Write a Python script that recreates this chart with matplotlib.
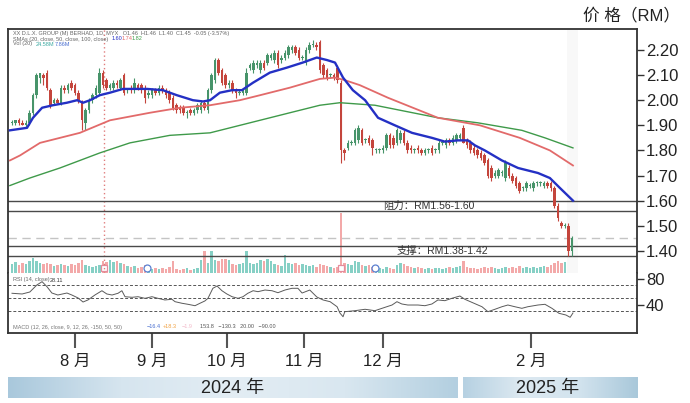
import numpy as np
import matplotlib.pyplot as plt
from matplotlib.colors import LinearSegmentedColormap

plt.rcParams['font.family'] = ['Liberation Sans', 'Noto Sans CJK SC', 'DejaVu Sans']

# ---- daily candles (trading-day index 0..160, Jul 2024 - Feb 2025) ----
opens = [
    1.91, 1.91, 1.92, 1.91, 1.90, 1.91, 1.95, 2.02, 2.09, 2.10,
    2.11, 2.04, 1.99, 2.00, 1.99, 2.05, 2.04, 2.07, 2.06, 2.03,
    1.99, 1.91, 1.96, 2.00, 2.02, 2.03, 2.11, 2.08, 2.05, 2.05,
    2.07, 2.05, 2.10, 2.04, 2.05, 2.04, 2.06, 2.06, 2.05, 2.02,
    2.02, 2.04, 2.03, 2.05, 2.04, 2.03, 2.01, 1.98, 1.97, 1.97,
    1.95, 1.96, 1.95, 1.96, 1.96, 1.99, 1.96, 2.04, 2.08, 2.16,
    2.12, 2.10, 2.06, 2.07, 2.04, 2.03, 2.03, 2.03, 2.13, 2.12,
    2.14, 2.12, 2.15, 2.15, 2.17, 2.16, 2.19, 2.16, 2.17, 2.18,
    2.20, 2.21, 2.20, 2.17, 2.15, 2.20, 2.22, 2.22, 2.23, 2.14,
    2.12, 2.10, 2.10, 2.13, 2.07, 1.80, 1.81, 1.83, 1.83, 1.84,
    1.88, 1.84, 1.85, 1.84, 1.80, 1.80, 1.80, 1.81, 1.86, 1.85,
    1.83, 1.84, 1.87, 1.83, 1.81, 1.80, 1.81, 1.80, 1.79, 1.80,
    1.81, 1.80, 1.80, 1.83, 1.82, 1.84, 1.83, 1.84, 1.85, 1.89,
    1.84, 1.83, 1.81, 1.80, 1.79, 1.78, 1.76, 1.73, 1.70, 1.70,
    1.71, 1.69, 1.73, 1.70, 1.69, 1.67, 1.65, 1.65, 1.66, 1.65,
    1.67, 1.67, 1.66, 1.67, 1.67, 1.65, 1.58, 1.51, 1.50, 1.50,
    1.40]
highs = [
    1.92, 1.92, 1.93, 1.92, 1.92, 1.96, 2.03, 2.11, 2.11, 2.11,
    2.12, 2.05, 2.01, 2.01, 2.06, 2.06, 2.07, 2.08, 2.07, 2.04,
    2.00, 1.97, 2.01, 2.03, 2.06, 2.13, 2.12, 2.09, 2.07, 2.08,
    2.08, 2.09, 2.11, 2.05, 2.06, 2.09, 2.07, 2.07, 2.06, 2.04,
    2.05, 2.05, 2.06, 2.06, 2.05, 2.04, 2.02, 1.99, 1.98, 1.98,
    1.96, 1.97, 1.97, 1.99, 2.00, 2.00, 2.05, 2.11, 2.17, 2.17,
    2.13, 2.11, 2.08, 2.08, 2.05, 2.04, 2.05, 2.13, 2.15, 2.16,
    2.16, 2.16, 2.16, 2.19, 2.19, 2.20, 2.20, 2.18, 2.20, 2.22,
    2.22, 2.22, 2.21, 2.18, 2.21, 2.23, 2.24, 2.23, 2.24, 2.15,
    2.13, 2.11, 2.11, 2.14, 2.08, 1.81, 1.84, 1.84, 1.89, 1.90,
    1.89, 1.85, 1.86, 1.85, 1.81, 1.81, 1.82, 1.87, 1.87, 1.86,
    1.89, 1.88, 1.88, 1.84, 1.82, 1.81, 1.82, 1.81, 1.81, 1.81,
    1.82, 1.81, 1.84, 1.84, 1.85, 1.85, 1.86, 1.87, 1.87, 1.90,
    1.85, 1.84, 1.82, 1.81, 1.80, 1.79, 1.77, 1.74, 1.72, 1.73,
    1.72, 1.76, 1.74, 1.71, 1.70, 1.68, 1.66, 1.68, 1.67, 1.68,
    1.68, 1.68, 1.68, 1.68, 1.68, 1.66, 1.59, 1.52, 1.51, 1.51,
    1.46]
lows = [
    1.90, 1.90, 1.90, 1.90, 1.89, 1.90, 1.94, 2.01, 2.07, 2.06,
    2.04, 1.97, 1.98, 1.99, 1.98, 2.03, 2.03, 2.04, 2.02, 1.99,
    1.88, 1.88, 1.95, 1.99, 2.01, 2.02, 2.05, 2.04, 2.04, 2.04,
    2.05, 2.04, 2.02, 2.03, 2.03, 2.03, 2.04, 2.03, 1.99, 2.01,
    2.01, 2.02, 2.02, 2.03, 2.01, 1.99, 1.96, 1.95, 1.95, 1.94,
    1.93, 1.94, 1.94, 1.95, 1.95, 1.96, 1.95, 2.03, 2.07, 2.10,
    2.06, 2.05, 2.05, 2.03, 2.01, 2.02, 2.02, 2.02, 2.12, 2.11,
    2.13, 2.11, 2.12, 2.14, 2.16, 2.15, 2.13, 2.15, 2.16, 2.17,
    2.19, 2.18, 2.16, 2.16, 2.14, 2.19, 2.21, 2.20, 2.11, 2.09,
    2.08, 2.09, 2.08, 2.07, 1.75, 1.76, 1.80, 1.82, 1.82, 1.83,
    1.82, 1.83, 1.82, 1.78, 1.79, 1.79, 1.79, 1.80, 1.81, 1.81,
    1.82, 1.83, 1.82, 1.79, 1.79, 1.79, 1.79, 1.78, 1.78, 1.79,
    1.78, 1.79, 1.79, 1.82, 1.81, 1.82, 1.82, 1.83, 1.84, 1.83,
    1.81, 1.79, 1.78, 1.77, 1.76, 1.74, 1.69, 1.68, 1.69, 1.69,
    1.70, 1.68, 1.69, 1.67, 1.65, 1.63, 1.64, 1.64, 1.65, 1.64,
    1.66, 1.66, 1.65, 1.65, 1.64, 1.57, 1.52, 1.49, 1.49, 1.38,
    1.38]
closes = [
    1.91, 1.92, 1.91, 1.90, 1.91, 1.95, 2.02, 2.10, 2.11, 2.09,
    2.05, 1.98, 2.00, 1.99, 2.05, 2.04, 2.06, 2.05, 2.03, 2.00,
    1.92, 1.96, 2.00, 2.02, 2.05, 2.11, 2.06, 2.05, 2.06, 2.07,
    2.06, 2.08, 2.03, 2.05, 2.04, 2.07, 2.05, 2.04, 2.01, 2.03,
    2.04, 2.03, 2.05, 2.04, 2.02, 2.00, 1.97, 1.96, 1.96, 1.95,
    1.95, 1.95, 1.96, 1.98, 1.99, 1.97, 2.04, 2.10, 2.16, 2.11,
    2.07, 2.06, 2.07, 2.04, 2.03, 2.03, 2.04, 2.11, 2.14, 2.15,
    2.15, 2.15, 2.13, 2.18, 2.18, 2.19, 2.14, 2.17, 2.19, 2.21,
    2.21, 2.19, 2.17, 2.17, 2.20, 2.22, 2.22, 2.21, 2.12, 2.10,
    2.09, 2.10, 2.09, 2.08, 1.80, 1.79, 1.83, 1.83, 1.88, 1.89,
    1.83, 1.84, 1.83, 1.81, 1.80, 1.80, 1.81, 1.86, 1.82, 1.82,
    1.88, 1.87, 1.83, 1.80, 1.80, 1.80, 1.80, 1.79, 1.80, 1.80,
    1.79, 1.80, 1.83, 1.83, 1.84, 1.83, 1.85, 1.86, 1.86, 1.83,
    1.82, 1.80, 1.79, 1.78, 1.77, 1.75, 1.70, 1.69, 1.71, 1.72,
    1.71, 1.75, 1.70, 1.68, 1.66, 1.64, 1.65, 1.67, 1.66, 1.67,
    1.67, 1.67, 1.67, 1.66, 1.65, 1.58, 1.53, 1.50, 1.50, 1.40,
    1.45]
volumes = [
    9, 11, 8, 10, 9, 12, 15, 12, 10, 9,
    10, 9, 7, 8, 9, 8, 7, 9, 8, 10,
    13, 8, 7, 6, 7, 8, 12, 11, 13, 11,
    12, 10, 9, 7, 6, 7, 5, 6, 8, 5,
    4, 5, 4, 5, 4, 6, 12, 4, 3, 4,
    5, 3, 4, 5, 13, 22, 10, 22, 13, 12,
    14, 14, 13, 9, 8, 9, 10, 22, 10, 9,
    10, 13, 12, 14, 12, 9, 8, 7, 18, 10,
    9, 10, 8, 9, 8, 7, 8, 6, 9, 8,
    7, 6, 5, 6, 60, 10, 9, 8, 12, 11,
    8, 7, 8, 6, 5, 5, 4, 6, 5, 4,
    8, 10, 9, 7, 6, 5, 6, 5, 4, 5,
    4, 5, 5, 4, 5, 6, 5, 6, 7, 12,
    6, 5, 5, 4, 5, 6, 5, 6, 5, 4,
    5, 6, 5, 6, 5, 7, 5, 6, 5, 6,
    5, 6, 7, 6, 8, 10, 12, 10, 11, 14,
    13]

# moving averages at sample points
sma20_idx = [-0.6, 4.3, 6, 8.6, 11.7, 15.7, 18.6, 20.3, 22.3, 25.1, 28, 31.7, 38.6, 43.1,
             47.1, 51.7, 54.6, 56.6, 59.4, 62.9, 65.7, 68.9, 73.7, 78.6, 83.1, 87.1, 90,
             92.3, 94.6, 97.4, 100.9, 104.6, 109.4, 114.3, 120, 123.7, 127.4, 130.3, 132.3,
             135.1, 140, 144.6, 150.3, 153.7, 156.6, 160.3]
sma20_val = [1.88, 1.89, 1.93, 1.97, 1.98, 1.99, 2.00, 1.99, 2.00, 2.02, 2.03, 2.045, 2.045, 2.04,
             2.02, 2.00, 1.995, 2.00, 2.03, 2.04, 2.04, 2.07, 2.11, 2.13, 2.15, 2.17, 2.16,
             2.15, 2.09, 2.04, 2.00, 1.93, 1.90, 1.87, 1.85, 1.835, 1.84, 1.84, 1.82,
             1.80, 1.76, 1.73, 1.71, 1.69, 1.65, 1.60]
sma50_idx = [-0.6, 2.3, 8, 19.4, 28, 39.4, 48, 56.6, 65.1, 70.9, 79.4, 88, 92.3, 95.1, 99.4,
             107.4, 121.7, 133.7, 145.1, 153.7, 160.3]
sma50_val = [1.76, 1.78, 1.83, 1.87, 1.92, 1.95, 1.97, 1.98, 2.00, 2.02, 2.05, 2.085, 2.09, 2.08,
             2.06, 2.01, 1.93, 1.90, 1.85, 1.80, 1.74]
sma100_idx = [-0.6, 5.1, 13.7, 25.1, 33.7, 45.1, 56.6, 68, 79.4, 88, 93.7, 103.7, 121.7, 133.1,
              145.7, 152.3, 160.3]
sma100_val = [1.66, 1.69, 1.73, 1.79, 1.83, 1.86, 1.87, 1.91, 1.95, 1.98, 1.99, 1.98, 1.93, 1.91,
              1.88, 1.85, 1.81]

rsi_idx = [0, 2.9, 5.1, 7.1, 8.6, 10, 11.4, 13.1, 15.7, 17.1, 18.9, 20.3, 21.7, 23.7, 25.7,
           27.1, 28.6, 30.3, 31.4, 32.3, 34.3, 36, 38, 40, 41.7, 43.7, 45.7, 46.6, 48.6, 50.3,
           52.3, 53.7, 55.1, 56, 57.4, 58.6, 60, 61.4, 62.9, 64.6, 66, 67.4, 68.9, 70.3, 72.3,
           74.3, 76, 78, 80, 81.7, 82.9, 85.1, 87.1, 88.9, 90.9, 92.9, 93.7, 94.6, 95.1, 98,
           100.9, 103.7, 106.6, 108.6, 110, 111.4, 113.1, 116, 118, 120, 121.7, 123.7, 125.7,
           128, 129.4, 131.4, 134.3, 136, 138, 140, 141.7, 143.7, 145.7, 147.4, 150.3, 152.3,
           154.3, 156.3, 158.3, 159.5, 160.3]
rsi_val = [57.8, 56.7, 59.8, 70.8, 76, 68.1, 58.2, 55.1, 58.2, 55.1, 50.4, 44.1, 47.3, 55.1, 61.8,
           56.7, 55.1, 57.8, 61.8, 52.4, 51.5, 52.4, 49.9, 52.4, 49.9, 47.3, 48.4, 44.6, 42.1, 40.5,
           38.3, 42.1, 45.7, 49.9, 65.6, 69.2, 61.8, 56.7, 52.4, 49.9, 52.4, 57.8, 61.8, 60.3, 62.9,
           61.8, 58.7, 62.9, 65.6, 65.6, 58.2, 62.9, 52, 47.3, 44.6, 36.7, 26.9, 21, 28.9, 30.5,
           32.7, 30.5, 35.8, 39.4, 44.6, 41, 39.4, 39.4, 38.3, 41, 47.3, 46.2, 49.9,
           53.5, 48.4, 43.6, 36.7, 28.9, 32.7, 36.7, 39.4, 36.7, 34.2, 36.7, 39.4, 40.5,
           34.2, 26.4, 23.7, 20.1, 26.9]

price_ticks = [1.40, 1.50, 1.60, 1.70, 1.80, 1.90, 2.00, 2.10, 2.20]
rsi_ticks = [80, 40]
rsi_levels = [70, 50, 30]
month_pos = [18, 40, 61.4, 83.4, 106, 148.3]
month_labels = ['8 月', '9 月', '10 月', '11 月', '12 月', '2 月']
resistance = (1.56, 1.60)
support = (1.38, 1.42)
last_line = 1.45
event_line = 26.3
events_idx = [26.3, 38.6, 94, 103.7, 160.3, 160.3]
events_vol = [5, 5, 5, 5, 12, 4]
events_kind = ['E', 'D', 'E', 'D', 'S', 'E']

W, H = 690, 403
fig = plt.figure(figsize=(W / 100, H / 100), dpi=100)


def box(x0, y0, x1, y1):
    return [x0 / W, 1 - y1 / H, (x1 - x0) / W, (y1 - y0) / H]


ax_vol = fig.add_axes(box(8, 29, 637, 273), zorder=0)
ax = fig.add_axes(box(8, 29, 637, 273), sharex=ax_vol, zorder=1)
ax_rsi = fig.add_axes(box(8, 273, 637, 333), sharex=ax_vol, zorder=1)
ax_top = fig.add_axes([0, 0, 1, 1], zorder=5)

o = np.array(opens); h = np.array(highs); l = np.array(lows); c = np.array(closes)
idx = np.arange(len(o))
up = c >= o
green, red = '#47946a', '#c4453c'
col = np.where(up, green, red)

# volume
ax_vol.bar(idx, volumes, width=0.75, color=np.where(up, '#86d0c5', '#f3a9a9'), linewidth=0)
for x, v, k in zip(events_idx, events_vol, events_kind):
    if k == 'D':
        ax_vol.plot(x, v, 'o', ms=5, mfc='white', mec='#5a7fd0', mew=0.9)
    elif k == 'S':
        ax_vol.plot(x, v, 'o', ms=5, mfc='white', mec='#c774b8', mew=0.9)
    else:
        ax_vol.plot(x, v, 's', ms=4.5, mfc='white', mec='#e58c9c', mew=0.9)
ax_vol.set_ylim(0, 244)
ax_vol.axis('off')

# price panel
ax.set_facecolor('none')
ax.axvspan(158.6, 161.8, color='#f8f8f8', lw=0, zorder=0)
ax.axvline(event_line, color='#e07c7c', ls=(0, (1, 2)), lw=1, zorder=1)
for p in resistance + support:
    ax.axhline(p, color='#4a4a4a', lw=1, zorder=2)
ax.axhline(last_line, color='#c4c4c4', ls=(0, (6, 4)), lw=1, zorder=1)

ax.vlines(idx, l, h, color=col, lw=0.8, zorder=3)
ax.bar(idx, np.maximum(np.abs(c - o), 0.004), bottom=np.minimum(o, c), width=0.72,
       color=col, linewidth=0, zorder=4)

ax.plot(sma100_idx, sma100_val, color='#3f9a4a', lw=1.0, zorder=5)
ax.plot(sma50_idx, sma50_val, color='#e26a6a', lw=1.3, zorder=5)
ax.plot(sma20_idx, sma20_val, color='#2430c4', lw=1.7, zorder=6)

ax.text(119, sum(resistance) / 2, '阻力：RM1.56-1.60', fontsize=7.5, color='#333',
        ha='center', va='center', zorder=7)
ax.text(123, sum(support) / 2, '支撑：RM1.38-1.42', fontsize=7.5, color='#333',
        ha='center', va='center', zorder=7)

ax.set_xlim(-1.14, 178.6)
ax.set_ylim(1.3116, 2.2837)
ax.yaxis.tick_right()
ax.set_yticks(price_ticks)
ax.set_yticklabels([f'{v:.2f}' for v in price_ticks])
ax.tick_params(axis='y', direction='out', length=5, width=1, color='#333', pad=1.5,
               labelsize=12, labelcolor='#222')
ax.tick_params(axis='x', bottom=False, labelbottom=False)
ax.spines['bottom'].set_visible(False)
for s in ['top', 'left', 'right']:
    ax.spines[s].set_linewidth(1.3)
    ax.spines[s].set_color('#333')

# RSI panel
for lv in rsi_levels:
    ax_rsi.axhline(lv, color='#555', ls=(0, (3, 2)), lw=0.7)
ax_rsi.plot(rsi_idx, rsi_val, color='#5a5a5a', lw=0.7)
ax_rsi.set_ylim(-4.5, 89.6)
ax_rsi.yaxis.tick_right()
ax_rsi.set_yticks(rsi_ticks)
ax_rsi.tick_params(axis='y', direction='out', length=5, width=1, color='#333', pad=1.5,
                   labelsize=12, labelcolor='#222')
ax_rsi.set_xticks(month_pos)
ax_rsi.set_xticklabels(month_labels)
ax_rsi.tick_params(axis='x', direction='out', length=11, width=1.5, color='#555', pad=4,
                   labelsize=12, labelcolor='#222')
ax_rsi.spines['top'].set_visible(False)
for s in ['bottom', 'left', 'right']:
    ax_rsi.spines[s].set_linewidth(1.3)
    ax_rsi.spines[s].set_color('#333')

# overlay: header texts, year bands, unit label
ax_top.set_xlim(0, W)
ax_top.set_ylim(H, 0)
ax_top.axis('off')
ax_top.patch.set_alpha(0)

hdr = dict(fontsize=4, va='center', ha='left')
ax_top.text(13, 33, 'XX D.L.X. GROUP (M) BERHAD, 1D, MYX   O1.46  H1.46  L1.40  C1.45  -0.05 (-3.57%)',
            color='#666', **hdr)
ax_top.text(13, 39, 'SMAs (20, close, 50, close, 100, close)', color='#666', **hdr)
ax_top.text(112, 39, '1.60', color='#2430c4', **hdr)
ax_top.text(122, 39, '1.74', color='#e26a6a', **hdr)
ax_top.text(132, 39, '1.82', color='#3f9a4a', **hdr)
ax_top.text(13, 44, 'Vol (20)', color='#666', **hdr)
ax_top.text(36, 44, '24.58M', color='#3aa8a0', **hdr)
ax_top.text(55, 44, '7.86M', color='#4a6fd0', **hdr)
ax_top.text(13, 280, 'RSI (14, close)', color='#666', **hdr)
ax_top.text(50, 280, '28.11', color='#333', **hdr)
ax_top.text(13, 327, 'MACD (12, 26, close, 9, 12, 26, -150, 50, 50)', color='#777', **hdr)
ax_top.text(147, 327, '\u221216.4', color='#4a6fd0', **hdr)
ax_top.text(163, 327, '+18.3', color='#f0a040', **hdr)
ax_top.text(182, 327, '\u22121.9', color='#f2b8c8', **hdr)
ax_top.text(200, 327, '153.8   \u2212130.3   20.00   \u221290.00', color='#555', **hdr)

grad = np.linspace(0, 1, 256)[None, :]
cm1 = LinearSegmentedColormap.from_list('b1', ['#a9c8dc', '#d6e5ef', '#e3edf4', '#d9e7f0', '#b3cfe0'])
cm2 = LinearSegmentedColormap.from_list('b2', ['#b6d1e2', '#dde9f1', '#d2e3ee', '#a9c8da'])
ax_top.imshow(grad, extent=(8, 458, 398, 377), aspect='auto', cmap=cm1, zorder=1)
ax_top.imshow(grad, extent=(463, 638, 398, 377), aspect='auto', cmap=cm2, zorder=1)
ax_top.set_xlim(0, W)
ax_top.set_ylim(H, 0)
ax_top.text(233, 388, '2024 年', fontsize=13, color='#222', ha='center', va='center', zorder=2)
ax_top.text(548, 388, '2025 年', fontsize=13, color='#222', ha='center', va='center', zorder=2)
ax_top.text(680, 15, '价 格（RM）', fontsize=12, color='#222', ha='right', va='center')

fig.savefig('out.png', dpi=100)
